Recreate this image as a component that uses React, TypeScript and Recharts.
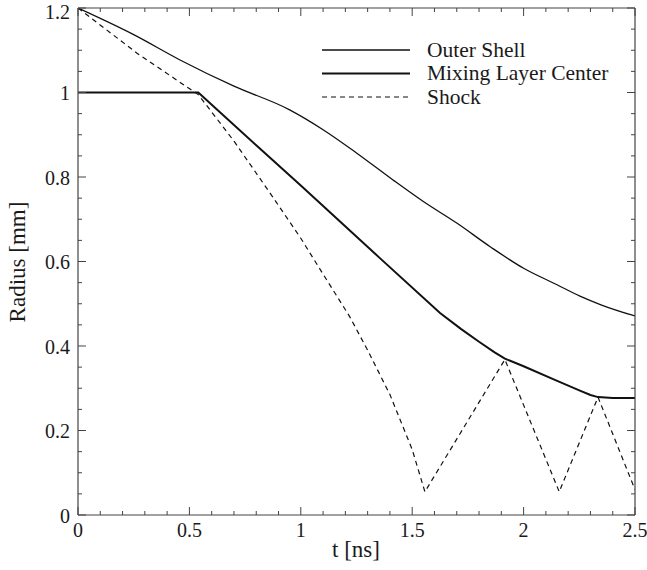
import React from "react";
import { LineChart, Line, XAxis, YAxis, Legend } from "recharts";

const outerT = [0, 0.25, 0.458, 0.7, 0.95, 1.1, 1.25, 1.414, 1.55, 1.7, 1.85, 2.0, 2.15, 2.253, 2.35, 2.5];
const outerR = [1.2, 1.137, 1.077, 1.015, 0.959, 0.912, 0.857, 0.793, 0.742, 0.691, 0.635, 0.584, 0.545, 0.518, 0.497, 0.471];

const mixT = [0, 0.54, 0.8, 1.0, 1.355, 1.625, 1.72, 1.8, 1.87, 1.916, 2.0, 2.13, 2.25, 2.3, 2.334, 2.4, 2.5];
const mixR = [1.0, 1.0, 0.875, 0.78, 0.608, 0.478, 0.44, 0.41, 0.385, 0.37, 0.352, 0.322, 0.295, 0.284, 0.279, 0.277, 0.277];

const shockT = [0, 0.265, 0.503, 0.54, 0.7, 0.862, 1.0, 1.1, 1.22, 1.3, 1.4, 1.5, 1.557, 1.916, 2.16, 2.334, 2.5];
const shockR = [1.2, 1.093, 1.008, 0.995, 0.885, 0.762, 0.655, 0.57, 0.469, 0.39, 0.285, 0.155, 0.055, 0.368, 0.055, 0.279, 0.06];

const xTicks = [0, 0.1, 0.2, 0.3, 0.4, 0.5, 0.6, 0.7, 0.8, 0.9, 1, 1.1, 1.2, 1.3, 1.4, 1.5, 1.6, 1.7, 1.8, 1.9, 2, 2.1, 2.2, 2.3, 2.4, 2.5];
const yTicks = [0, 0.05, 0.1, 0.15, 0.2, 0.25, 0.3, 0.35, 0.4, 0.45, 0.5, 0.55, 0.6, 0.65, 0.7, 0.75, 0.8, 0.85, 0.9, 0.95, 1, 1.05, 1.1, 1.15, 1.2];

const seriesNames = ["Outer Shell", "Mixing Layer Center", "Shock"];

const toData = (ts: number[], rs: number[]) => ts.map((t, i) => ({ t, r: rs[i] }));
const outerData = toData(outerT, outerR);
const mixData = toData(mixT, mixR);
const shockData = toData(shockT, shockR);

const FONT = "'Liberation Serif', 'Times New Roman', serif";
const INK = "#1a1a1a";
const AX = "#444";

const isMajorX = (v: number) => Math.abs(v * 2 - Math.round(v * 2)) < 1e-6;
const isMajorY = (v: number) => Math.abs(v * 5 - Math.round(v * 5)) < 1e-6;
const fmt = (v: number) => String(Math.round(v * 100) / 100);

const BottomTick = (props: any) => {
  const { x, y, payload } = props;
  const major = isMajorX(payload.value);
  return (
    <g>
      <line x1={x} x2={x} y1={y} y2={y - (major ? 8 : 4)} stroke={AX} strokeWidth={1} />
      {major && (
        <text x={x} y={y + 22} textAnchor="middle" fontFamily={FONT} fontSize={20} fill={INK}>
          {fmt(payload.value)}
        </text>
      )}
    </g>
  );
};

const TopTick = (props: any) => {
  const { x, y, payload } = props;
  const major = isMajorX(payload.value);
  return <line x1={x} x2={x} y1={y} y2={y + (major ? 8 : 4)} stroke={AX} strokeWidth={1} />;
};

const LeftTick = (props: any) => {
  const { x, y, payload } = props;
  const major = isMajorY(payload.value);
  return (
    <g>
      <line x1={x} x2={x + (major ? 8 : 4)} y1={y} y2={y} stroke={AX} strokeWidth={1} />
      {major && (
        <text x={x - 8} y={Math.max(y + 7.5, 18.5)} textAnchor="end" fontFamily={FONT} fontSize={20} fill={INK}>
          {fmt(payload.value)}
        </text>
      )}
    </g>
  );
};

const RightTick = (props: any) => {
  const { x, y, payload } = props;
  const major = isMajorY(payload.value);
  return <line x1={x} x2={x - (major ? 8 : 4)} y1={y} y2={y} stroke={AX} strokeWidth={1} />;
};

const LegendBox = () => {
  const styles = [
    { w: 1.3, dash: undefined },
    { w: 2, dash: undefined },
    { w: 1.2, dash: "5 4" },
  ];
  return (
    <svg width={320} height={80} style={{ display: "block", overflow: "visible" }}>
      {seriesNames.map((n, i) => {
        const y = 12 + i * 23.5;
        return (
          <g key={n}>
            <line x1={4} x2={92} y1={y} y2={y} stroke="#111" strokeWidth={styles[i].w} strokeDasharray={styles[i].dash} />
            <text x={109} y={y + 6.5} fontFamily={FONT} fontSize={21.5} fill={INK}>
              {n}
            </text>
          </g>
        );
      })}
    </svg>
  );
};

export default function App() {
  return (
    <div style={{ position: "absolute", left: 0, top: 0, width: 647, height: 570, background: "#fff", overflow: "visible" }}>
      <style>{`html,body{margin:0;padding:0;overflow:hidden;} svg{overflow:visible;}`}</style>
      <LineChart
        width={647}
        height={570}
        margin={{ top: 7, right: 11, bottom: 54, left: 77 }}
        style={{ overflow: "visible" }}
      >
        <XAxis
          xAxisId="bottom"
          type="number"
          dataKey="t"
          domain={[0, 2.5]}
          ticks={xTicks}
          interval={0}
          height={1}
          tickSize={0}
          tickMargin={0}
          tickLine={false}
          tick={<BottomTick />}
          axisLine={{ stroke: AX, strokeWidth: 1.2 }}
          allowDataOverflow
        />
        <XAxis
          xAxisId="top"
          orientation="top"
          type="number"
          dataKey="t"
          domain={[0, 2.5]}
          ticks={xTicks}
          interval={0}
          height={1}
          tickSize={0}
          tickMargin={0}
          tickLine={false}
          tick={<TopTick />}
          axisLine={{ stroke: AX, strokeWidth: 1.2 }}
          allowDataOverflow
        />
        <YAxis
          yAxisId="left"
          type="number"
          domain={[0, 1.2]}
          ticks={yTicks}
          interval={0}
          width={1}
          tickSize={0}
          tickMargin={0}
          tickLine={false}
          tick={<LeftTick />}
          axisLine={{ stroke: AX, strokeWidth: 1.2 }}
          allowDataOverflow
        />
        <YAxis
          yAxisId="right"
          orientation="right"
          type="number"
          domain={[0, 1.2]}
          ticks={yTicks}
          interval={0}
          width={1}
          tickSize={0}
          tickMargin={0}
          tickLine={false}
          tick={<RightTick />}
          axisLine={{ stroke: AX, strokeWidth: 1.2 }}
          allowDataOverflow
        />
        <Line
          xAxisId="bottom"
          yAxisId="left"
          data={outerData}
          dataKey="r"
          name={seriesNames[0]}
          type="monotone"
          stroke="#111"
          strokeWidth={1.3}
          dot={false}
          isAnimationActive={false}
        />
        <Line
          xAxisId="bottom"
          yAxisId="left"
          data={mixData}
          dataKey="r"
          name={seriesNames[1]}
          type="linear"
          stroke="#111"
          strokeWidth={2}
          dot={false}
          isAnimationActive={false}
        />
        <Line
          xAxisId="bottom"
          yAxisId="left"
          data={shockData}
          dataKey="r"
          name={seriesNames[2]}
          type="linear"
          stroke="#111"
          strokeWidth={1.2}
          strokeDasharray="5 4"
          dot={false}
          isAnimationActive={false}
        />
        <Legend
          layout="horizontal"
          verticalAlign="middle"
          align="center"
          content={() => <LegendBox />}
          wrapperStyle={{ position: "absolute", left: 318, top: 38, width: 320, height: 80 }}
        />
        <text x={356} y={557} textAnchor="middle" fontFamily={FONT} fontSize={23} fill={INK}>
          t [ns]
        </text>
        <text
          x={25}
          y={262}
          textAnchor="middle"
          fontFamily={FONT}
          fontSize={23}
          fill={INK}
          transform="rotate(-90 25 262)"
        >
          Radius [mm]
        </text>
      </LineChart>
    </div>
  );
}
